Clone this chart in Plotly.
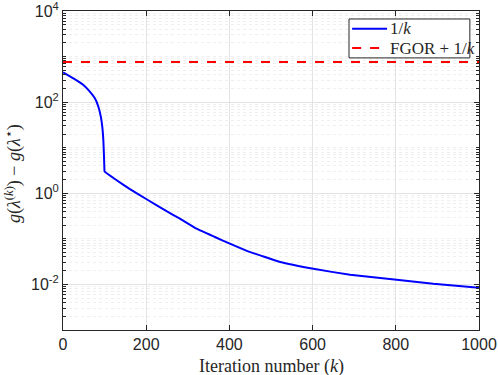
import plotly.graph_objects as go

# blue curve
k_blue = [0, 25, 49, 65, 77, 85, 91, 94.5, 97, 98.6, 99.5, 100, 129, 160, 201, 250, 281, 321, 365, 401,
          450, 474, 522, 602, 690, 802, 890, 1000]
g_blue = [450, 331, 237, 168, 120, 79, 47.5, 28.7, 14.6, 6.3, 3.4, 3.0, 1.93, 1.25, 0.74, 0.40, 0.277, 0.167, 0.11, 0.0785,
          0.051, 0.0434, 0.031, 0.022, 0.0163, 0.0127, 0.0103, 0.0085]

# red dashed, flat
k_red = [0, 200, 400, 600, 800, 1000]
g_red = [760, 760, 760, 760, 760, 760]

legend_labels = ["1/<i>k</i>", "FGOR + 1/<i>k</i>"]

serif = "Liberation Serif"
sans = "Liberation Sans"
dark = "#262626"

fig = go.Figure()
fig.add_trace(go.Scatter(
    x=k_blue, y=g_blue, mode="lines", name=legend_labels[0],
    line=dict(color="#0000ff", width=2, shape="spline", smoothing=0.3),
))
fig.add_trace(go.Scatter(
    x=k_red, y=g_red, mode="lines", name=legend_labels[1],
    line=dict(color="#ff0000", width=2, dash="dash"),
))

axis_common = dict(
    showline=True, linecolor=dark, linewidth=1, mirror="ticks",
    ticks="inside", ticklen=5, tickcolor=dark,
    gridcolor="#e3e3e3", zeroline=False, automargin=False,
    ticklabeloverflow="allow",
    tickfont=dict(family=sans, size=16, color=dark),
)

# hand-made legend box (matlab style: compact rows)
shapes = [
    dict(type="rect", xref="paper", yref="paper", x0=0.6875, x1=0.978, y0=0.853, y1=0.975,
         line=dict(color=dark, width=1), fillcolor="white", layer="above"),
]
annotations = []
for i, tr in enumerate(fig.data):
    yc = 0.944 - i * 0.06
    shapes.append(dict(type="line", xref="paper", yref="paper", x0=0.695, x1=0.779, y0=yc, y1=yc,
                       line=dict(color=tr.line.color, width=2, dash=tr.line.dash or "solid"),
                       layer="above"))
    annotations.append(dict(text=tr.name, xref="paper", yref="paper", x=0.782, y=yc,
                            xanchor="left", yanchor="middle", showarrow=False,
                            font=dict(family=serif, size=17, color=dark)))

annotations += [
    dict(text="Iteration number (<i>k</i>)", xref="paper", yref="paper",
         x=0.5, y=-0.114, xanchor="center", yanchor="middle", showarrow=False,
         font=dict(family=serif, size=18, color=dark)),
    dict(text="<i>g</i>(<i>λ</i><sup>(<i>k</i>)</sup>) − <i>g</i>(<i>λ</i><sup>⋆</sup>)",
         xref="paper", yref="paper", x=-0.118, y=0.492, textangle=-90,
         xanchor="center", yanchor="middle", showarrow=False,
         font=dict(family=serif, size=18, color=dark)),
]

fig.update_layout(
    width=498, height=375,
    margin=dict(l=63, r=19, t=11, b=45),
    paper_bgcolor="white", plot_bgcolor="white",
    showlegend=False,
    xaxis=dict(
        range=[0, 1000], tickvals=[0, 200, 400, 600, 800, 1000],
        **axis_common,
    ),
    yaxis=dict(
        type="log", range=[-3, 4],
        tickvals=[1e-2, 1, 1e2, 1e4],
        ticktext=["10<sup>-2</sup>", "10<sup>0</sup>", "10<sup>2</sup>", "10<sup>4</sup>"],
        minor=dict(dtick="D1", showgrid=True, griddash="dot", gridcolor="#efefef",
                   ticks="inside", ticklen=3, tickcolor=dark),
        **axis_common,
    ),
    shapes=shapes,
    annotations=annotations,
)

# drop the default 8px body margin so the figure sits at the window corner
fig.write_html("out.html", config={"displayModeBar": False},
               post_script="document.body.style.margin='0';")
